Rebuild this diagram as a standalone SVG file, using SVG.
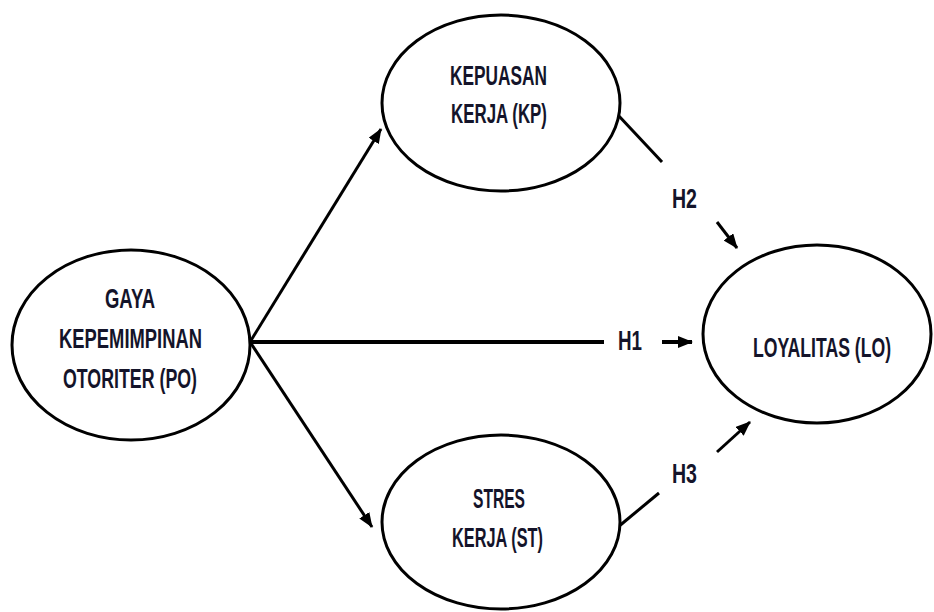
<svg xmlns="http://www.w3.org/2000/svg" width="934" height="612" viewBox="0 0 934 612">
<style>
.node ellipse{fill:#fff;stroke:#000;stroke-width:3}
text{font-family:"Liberation Sans",Arial,sans-serif;font-size:27px;font-weight:bold;fill:#14142a;text-anchor:middle}
.c line{stroke:#000;stroke-width:3;fill:none}
.c line.thick{stroke-width:4}
</style>
<defs>
<marker id="ah" markerUnits="userSpaceOnUse" markerWidth="15" markerHeight="12" refX="14" refY="6" orient="auto">
<path d="M0,0 L15,6 L0,12 Z" fill="#000"/>
</marker>
</defs>
<rect width="934" height="612" fill="#fff"/>
<g class="c" id="connectors">
<line x1="250" y1="342" x2="381" y2="129" marker-end="url(#ah)"/>
<line x1="250" y1="342" x2="372" y2="527" marker-end="url(#ah)"/>
<line class="thick" x1="250" y1="342" x2="604" y2="342"/>
<line class="thick" x1="662" y1="342" x2="692" y2="342" marker-end="url(#ah)"/>
<line x1="618" y1="115" x2="662" y2="162"/>
<line x1="717" y1="222" x2="737" y2="248" marker-end="url(#ah)"/>
<line x1="618" y1="527" x2="659" y2="493"/>
<line x1="717" y1="452" x2="750" y2="422" marker-end="url(#ah)"/>
</g>
<g id="n-po" class="node">
<ellipse cx="131" cy="345" rx="119" ry="95"/>
<text x="130" y="308" textLength="50" lengthAdjust="spacingAndGlyphs">GAYA</text>
<text x="130.5" y="348" textLength="143" lengthAdjust="spacingAndGlyphs">KEPEMIMPINAN</text>
<text x="130" y="388" textLength="134" lengthAdjust="spacingAndGlyphs">OTORITER (PO)</text>
</g>
<g id="n-kp" class="node">
<ellipse cx="501" cy="103" rx="119" ry="88"/>
<text x="498.5" y="85" textLength="97" lengthAdjust="spacingAndGlyphs">KEPUASAN</text>
<text x="499" y="123" textLength="96" lengthAdjust="spacingAndGlyphs">KERJA (KP)</text>
</g>
<g id="n-st" class="node">
<ellipse cx="501" cy="522" rx="119" ry="87"/>
<text x="499" y="508" textLength="52" lengthAdjust="spacingAndGlyphs">STRES</text>
<text x="497.5" y="547" textLength="91" lengthAdjust="spacingAndGlyphs">KERJA (ST)</text>
</g>
<g id="n-lo" class="node">
<ellipse cx="817" cy="334" rx="114" ry="89"/>
<text transform="translate(822,357) scale(0.653,1)">LOYALITAS (LO)</text>
</g>
<g id="labels">
<text x="630" y="350" textLength="24" lengthAdjust="spacingAndGlyphs">H1</text>
<text x="684.5" y="208" textLength="25" lengthAdjust="spacingAndGlyphs">H2</text>
<text x="684.5" y="483" textLength="25" lengthAdjust="spacingAndGlyphs">H3</text>
</g>
</svg>
